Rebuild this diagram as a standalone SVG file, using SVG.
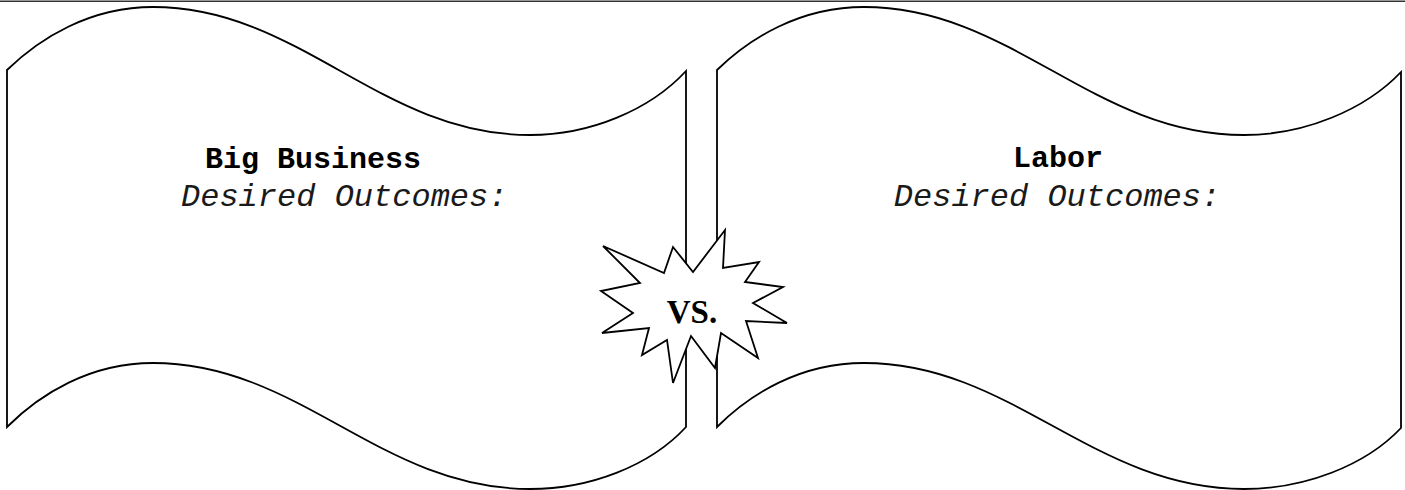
<svg xmlns="http://www.w3.org/2000/svg" width="1405" height="490" viewBox="0 0 1405 490">
<style>
.banner{fill:#fff;stroke:#000;stroke-width:1.8;stroke-linejoin:miter}
.title{font-family:"Liberation Mono","Courier New",monospace;font-weight:bold;font-size:30px;fill:#000}
.sub{font-family:"Liberation Mono","Courier New",monospace;font-style:italic;font-size:32px;fill:#1a1a1a}
.star{fill:#fff;stroke:#000;stroke-width:1.8;stroke-linejoin:miter}
.vs{font-family:"Liberation Serif","Times New Roman",serif;font-weight:bold;font-size:33px;fill:#000}
</style>
<rect width="1405" height="490" fill="#fff"/>
<line x1="0" y1="1.2" x2="1405" y2="1.2" stroke="#333" stroke-width="1.4"/>
<g id="big-business">
<path class="banner" d="M7,70 C40,38 90,7 153,7 C300,7 380,135 530,135 C590,135 650,110 686,71 L686,427 C650,466 590,489 530,489 C380,489 300,363 153,363 C90,363 40,394 7,427 Z"/>
<text class="title" x="205" y="168">Big Business</text>
<text class="sub" x="181" y="206">Desired Outcomes:</text>
</g>
<g id="labor">
<path class="banner" d="M717,70 C750,38 800,7 864,7 C1012,7 1093,135 1244,135 C1304,135 1365,110 1401,72 L1401,428 C1365,466 1304,489 1244,489 C1093,489 1012,363 864,363 C800,363 750,394 717,427 Z"/>
<text class="title" x="1058" y="167" text-anchor="middle">Labor</text>
<text class="sub" x="1057" y="206" text-anchor="middle">Desired Outcomes:</text>
</g>
<g id="vs-star">
<polygon class="star" points="603,246 664,273 673,247 693,272 725,230 723,268 759,262 745,282 783,287 753,303 787,323 746,321 758,358 721,333 715,368 691,336 673,383 667,340 642,355 649,328 602,333 633,313 601,291 640,283"/>
<text class="vs" x="692" y="323" text-anchor="middle">VS.</text>
</g>
<g id="connectors"/>
</svg>
